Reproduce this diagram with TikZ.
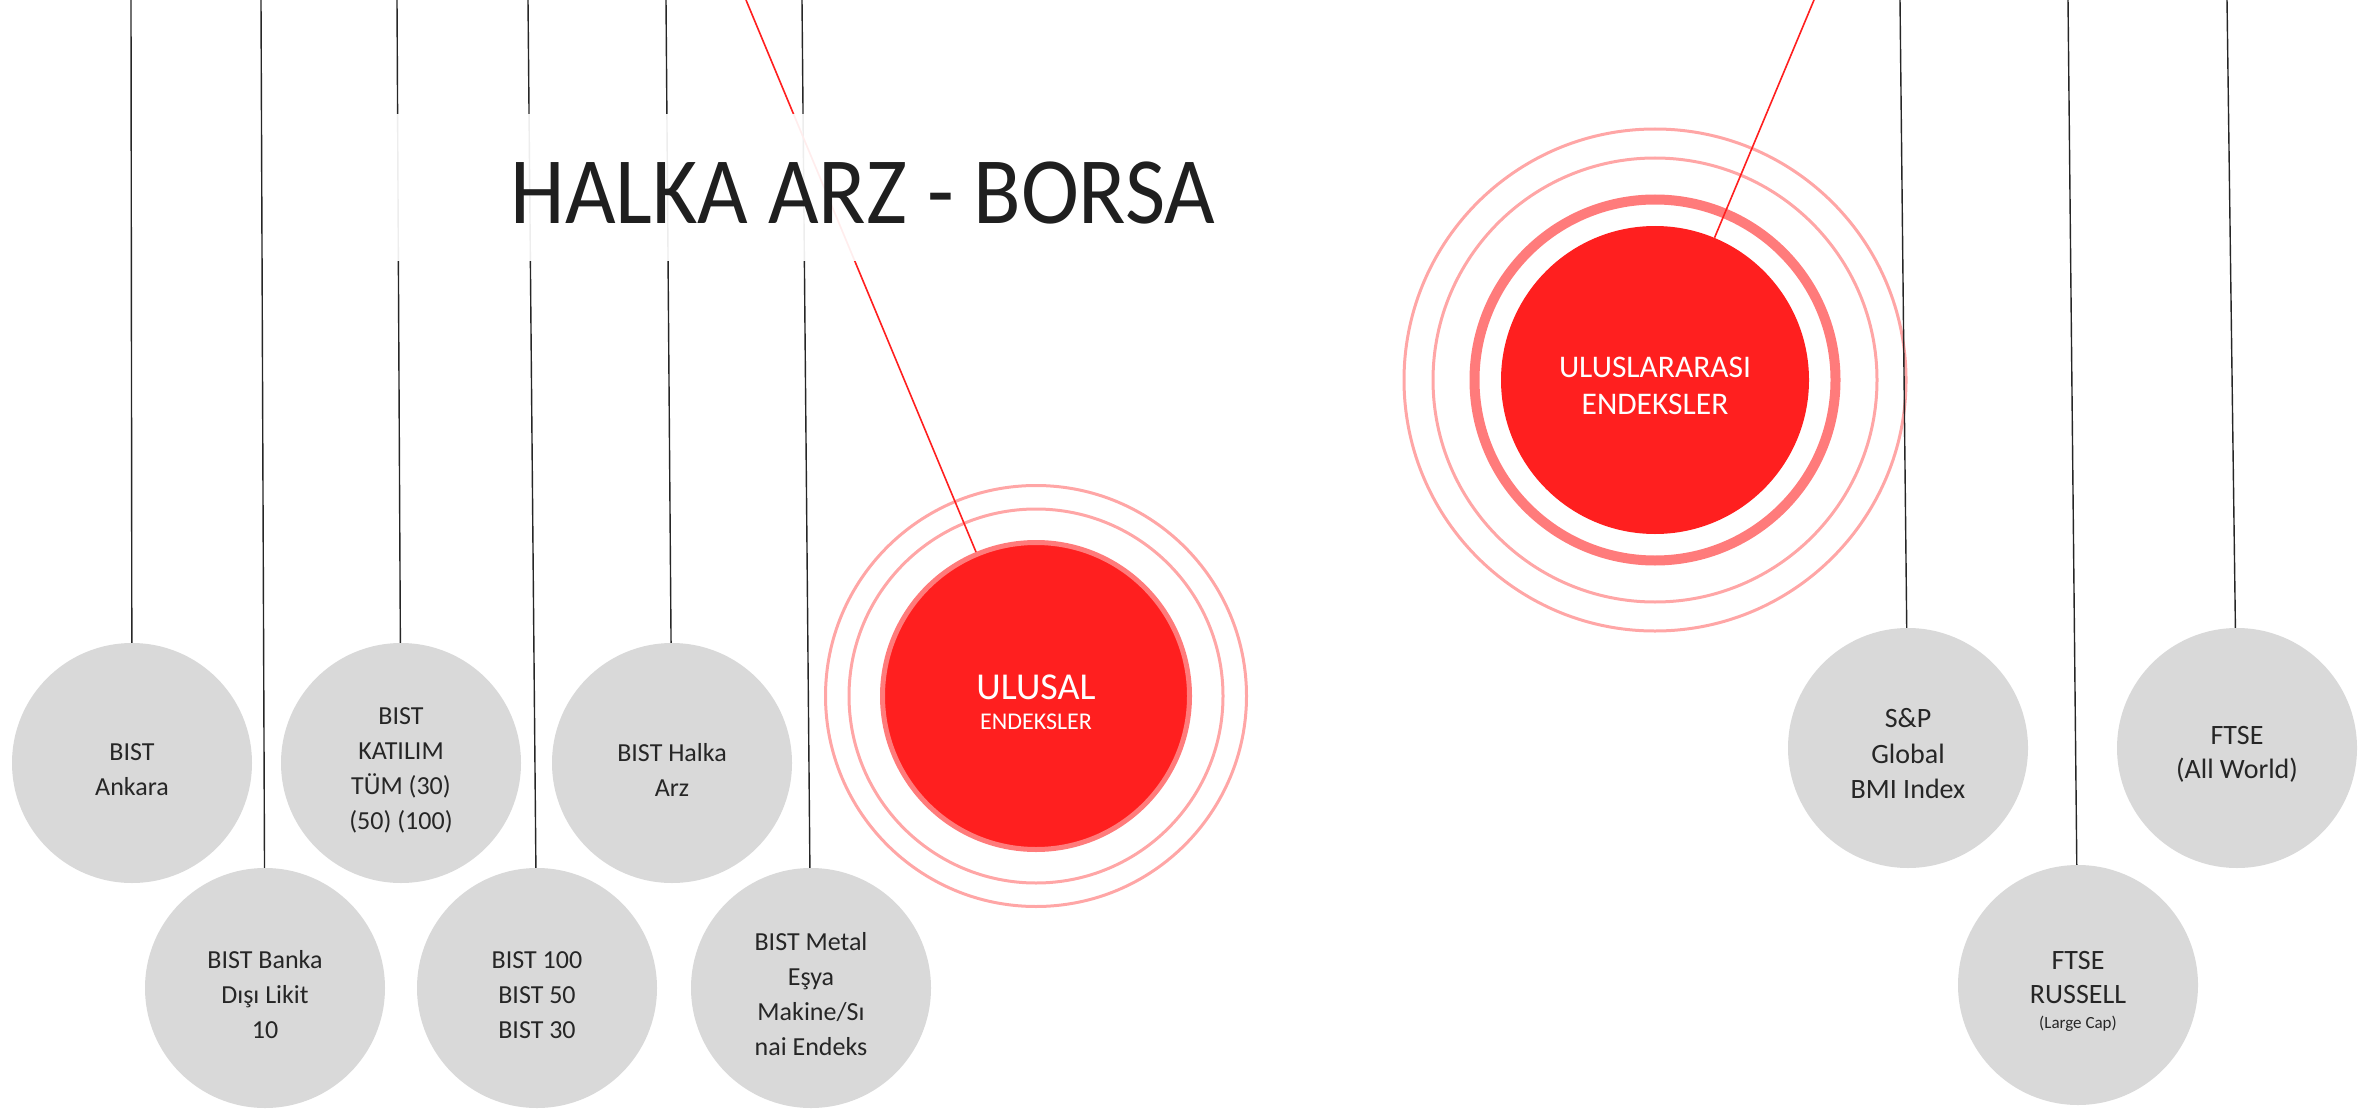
\documentclass[tikz,border=0pt]{standalone}
\usepackage{fontspec}
\setmainfont{Carlito}
\newfontfamily\titlefont[FakeStretch=0.92]{Carlito}
\usetikzlibrary{calc}
\definecolor{grayfill}{HTML}{D9D9D9}
\definecolor{redfill}{HTML}{FF1F1F}
\definecolor{redrim}{HTML}{FF7B7B}
\definecolor{redring}{HTML}{FFA6A6}
\definecolor{inktext}{HTML}{262626}
\definecolor{titletext}{HTML}{1F1F1F}
% invisible strut that pushes the lines of a label a little below the centre
\newcommand{\lift}[1][31pt]{\rule{0pt}{#1}}

\begin{document}
\begin{tikzpicture}[x=1pt,y=-1pt,
    every node/.style={align=center,inner sep=0pt},
    index/.style={circle,fill=grayfill,minimum size=240pt,text=inktext,font=\fontsize{26}{35}\selectfont},
    hub/.style={circle,fill=redfill,text=white},
    ring/.style={draw=redring,line width=3pt},
    hang/.style={draw=black!85,line width=1.4pt},
    pull/.style={draw=redfill,line width=1.6pt}]
            \useasboundingbox (0,0) rectangle (2374,1110);

            % Define the loose ends of the strings at the top edge
            \coordinate (tAnk) at (131,0);
            \coordinate (tBanka) at (261,0);
            \coordinate (tKat) at (397,0);
            \coordinate (tYuz) at (528,0);
            \coordinate (tHalka) at (666,0);
            \coordinate (tMetal) at (802,0);
            \coordinate (tSP) at (1900,0);
            \coordinate (tRus) at (2068,0);
            \coordinate (tWorld) at (2227,0);
            \coordinate (tUlusal) at (746,0);
            \coordinate (tUlusl) at (1814,0);

            % national indices
            \node[index] (ank) at (132,763) {\lift BIST\\Ankara};
            \node[index] (banka) at (265,988) {\lift BIST Banka\\Dışı Likit\\10};
            \node[index] (kat) at (401,763) {\lift BIST\\KATILIM\\TÜM (30)\\(50) (100)};
            \node[index] (yuz) at (537,988) {\lift BIST 100\\BIST 50\\BIST 30};
            \node[index] (halka) at (672,763) {\lift BIST Halka\\Arz};
            \node[index] (metal) at (811,988) {\lift BIST Metal\\Eşya\\Makine/Sı\\nai Endeks};

            % international indices
            \node[index,font=\fontsize{28}{35.5}\selectfont] (sp) at (1908,748) {\lift S\&P\\Global\\BMI Index};
            \node[index,font=\fontsize{28}{34}\selectfont] (rus) at (2078,985) {\lift FTSE\\RUSSELL\\[-9pt]{\fontsize{17}{20}\selectfont (Large Cap)}};
            \node[index,font=\fontsize{28}{34}\selectfont] (world) at (2237,748) {\lift FTSE\\(All World)};

            % the two red hubs
            \node[hub,draw=redrim,line width=5pt,minimum size=307pt,font=\fontsize{38}{30}\selectfont] (ulusal) at (1036,696) {\lift[37pt]ULUSAL\\{\fontsize{24}{26}\selectfont ENDEKSLER}};
            \node[hub,minimum size=308pt,font=\fontsize{31.5}{37}\selectfont] (ulusl) at (1655,380) {\lift[33pt]ULUSLARARASI\\ENDEKSLER};

            \draw[ring] (ulusal.center) circle (187pt);
            \draw[ring] (ulusal.center) circle (210.5pt);
            \draw[draw=redrim,line width=10pt] (ulusl.center) circle (180.5pt);
            \draw[ring] (ulusl.center) circle (222pt);
            \draw[ring] (ulusl.center) circle (251pt);

            \draw[hang] (tAnk) -- (ank);
            \draw[hang] (tBanka) -- (banka);
            \draw[hang] (tKat) -- (kat);
            \draw[hang] (tYuz) -- (yuz);
            \draw[hang] (tHalka) -- (halka);
            \draw[hang] (tMetal) -- (metal);
            \draw[hang] (tSP) -- (sp);
            \draw[hang] (tRus) -- (rus);
            \draw[hang] (tWorld) -- (world);

            \draw[pull] (tUlusal) -- (ulusal);
            \draw[pull] (tUlusl) -- (ulusl);

            % title on a veil that hides the strings behind it
            \fill[white,opacity=0.92] (325,114) rectangle (1240,261);
            \node[text=titletext,font=\titlefont\fontsize{95}{100}\selectfont] (title) at (863,193) {HALKA ARZ - BORSA};

        \end{tikzpicture}
\end{document}
